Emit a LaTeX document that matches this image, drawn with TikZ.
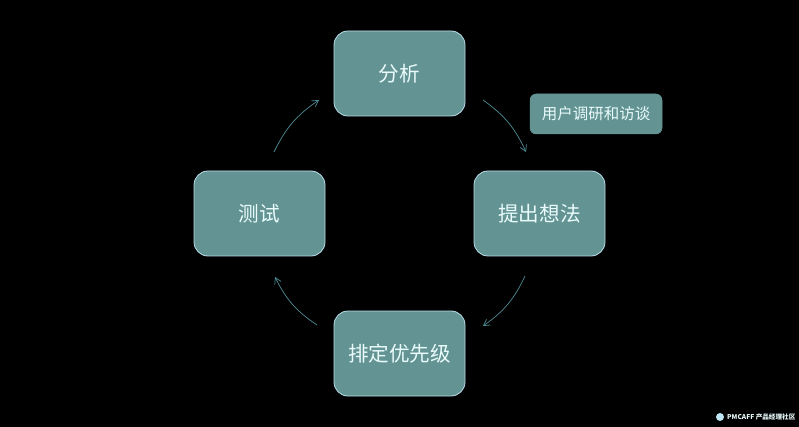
\documentclass[tikz,border=0pt]{standalone}
\usepackage{fontspec}
\setmainfont{Noto Sans CJK SC}
\usetikzlibrary{arrows.meta}
\definecolor{boxfill}{HTML}{639393}
\definecolor{boxedge}{HTML}{B8DEEA}
\definecolor{boxtext}{HTML}{EAFBFB}
\definecolor{flow}{HTML}{4F8C96}
\definecolor{logoblue}{HTML}{BFE6F5}
\tikzset{
  x=1pt,y=-1pt,
  stage/.style={draw=boxedge,line width=0.8pt,fill=boxfill,rounded corners=14pt,minimum width=131pt,minimum height=85pt,inner sep=0pt,text=boxtext,font=\fontsize{20.6}{24}\selectfont},
  note/.style={draw=boxfill,line width=0.5pt,fill=boxfill,rounded corners=6pt,minimum width=132pt,minimum height=40pt,inner sep=0pt,text=boxtext,font=\fontsize{15.5}{18}\selectfont},
  flowline/.style={draw=flow,line width=0.7pt,-{Straight Barb[length=6pt,width=7pt]}},
  brand/.style={inner sep=0pt,text=boxtext,font=\bfseries\fontsize{6.6}{8}\selectfont}
}
\begin{document}
\begin{tikzpicture}
\fill[black] (0,0) rectangle (799,427);
\useasboundingbox (0,0) rectangle (799,427);
\node[stage] (an) at (399.5,73.5) {分析};
\node[stage] (idea) at (539.5,213.5) {提出想法};
\node[stage] (prio) at (399.5,353.5) {排定优先级};
\node[stage] (test) at (259.5,213.5) {测试};
\node[note] (res) at (596,114) {\raisebox{-1pt}{用户调研和访谈}};
\coordinate (a1) at (483,100);
\coordinate (a2) at (526,152);
\coordinate (b1) at (525,276);
\coordinate (b2) at (483,326);
\coordinate (c1) at (317,325);
\coordinate (c2) at (275,277);
\coordinate (d1) at (274,152);
\coordinate (d2) at (319,100);
\draw[flowline] (a1) to[bend left=15] (a2);
\draw[flowline] (b1) to[bend left=15] (b2);
\draw[flowline] (c1) to[bend left=15] (c2);
\draw[flowline] (d1) to[bend left=15] (d2);
\node[circle,fill=logoblue,minimum size=8pt,inner sep=0pt] (logo) at (720,417) {};
\node[brand,anchor=west] (pm) at (727,417.5) {PMCAFF 产品经理社区};
\end{tikzpicture}
\end{document}
